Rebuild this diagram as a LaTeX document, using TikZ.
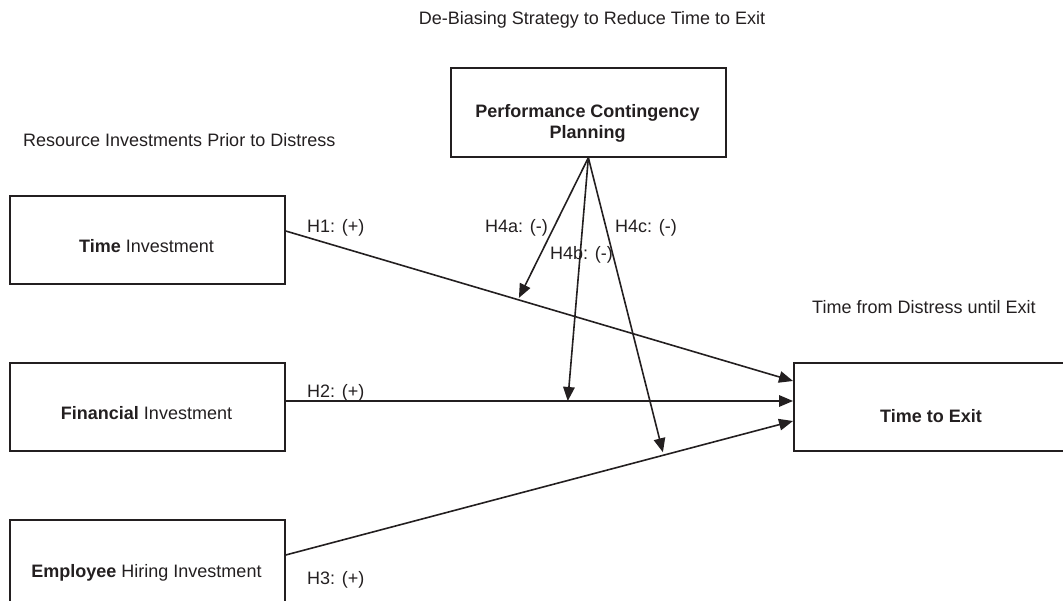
\documentclass[tikz,border=0pt]{standalone}
\usepackage{fontspec}
\setmainfont{Liberation Sans}
\usetikzlibrary{arrows.meta,calc}
\definecolor{ink}{RGB}{35,31,32}
\begin{document}
\begin{tikzpicture}[x=1pt,y=-1pt,
  every node/.style={font=\fontsize{18}{21}\selectfont, text=ink},
  box/.style={draw=ink, line width=1.7pt, inner sep=0pt, anchor=north west,
              minimum width=275pt, minimum height=88pt},
  lbl/.style={inner sep=0pt, anchor=base west},
  ctr/.style={inner sep=0pt, anchor=base, align=center},
  conn/.style={draw=ink, line width=1.6pt, -{Triangle[length=14pt,width=11.5pt]}}
]
\useasboundingbox (0,0) rectangle (1063,601);
\clip (0,0) rectangle (1063,601);

% boxes
\node[box] (time) at (9,195) {};
\node[box] (fin)  at (9,362) {};
\node[box, minimum height=102pt] (emp) at (9,519) {};
\node[box, minimum height=89pt] (pcp) at (450,67) {};
\node[box, minimum width=276pt] (tte) at (793,362) {};

% box texts
\node[ctr] (timetxt) at (146.5,253) {\textbf{Time} Investment};
\node[ctr] (fintxt)  at (146.5,420) {\textbf{Financial} Investment};
\node[ctr] (emptxt)  at (146.5,577) {\textbf{Employee} Hiring Investment};
\node[ctr] (pcptxt)  at (587.5,139) {\textbf{Performance Contingency}\\\textbf{Planning}};
\node[ctr] (ttetxt)  at (931,423) {\textbf{Time to Exit}};

% headings
\node[ctr] (deb) at (592,25) {De-Biasing Strategy to Reduce Time to Exit};
\node[lbl] (res) at (23,147) {Resource Investments Prior to Distress};
\node[lbl] (tfd) at (812,314) {Time from Distress until Exit};

% connector end points
\coordinate (tS) at ($(time.north east)+(0,36)$);
\coordinate (fS) at ($(fin.north east)+(0,39)$);
\coordinate (eS) at ($(emp.north east)+(0,36)$);
\coordinate (tT) at ($(tte.north west)+(0,19)$);
\coordinate (fT) at ($(tte.north west)+(0,39)$);
\coordinate (eT) at ($(tte.north west)+(0,59)$);

\draw[conn] (tS) -- (tT);
\draw[conn] (fS) -- (fT);
\draw[conn] (eS) -- (eT);

\coordinate (m1) at ($(tS)!0.458!(tT)$);
\coordinate (m2) at ($(fS)!0.556!(fT)$);
\coordinate (m3) at ($(eS)!0.745!(eT)$);

\draw[conn, shorten >=2pt] (pcp.south) -- (m1);
\draw[conn] (pcp.south) -- (m2);
\draw[conn, shorten >=3pt] (pcp.south) -- (m3);

% path labels
\node[lbl] (h1) at (307,233) {H1: (+)};
\node[lbl] (h2) at (307,398) {H2: (+)};
\node[lbl] (h3) at (307,584) {H3: (+)};
\node[lbl] (h4a) at (485,233) {H4a: (-)};
\node[lbl] (h4b) at (550,260) {H4b: (-)};
\node[lbl] (h4c) at (615,233) {H4c: (-)};
\end{tikzpicture}
\end{document}
